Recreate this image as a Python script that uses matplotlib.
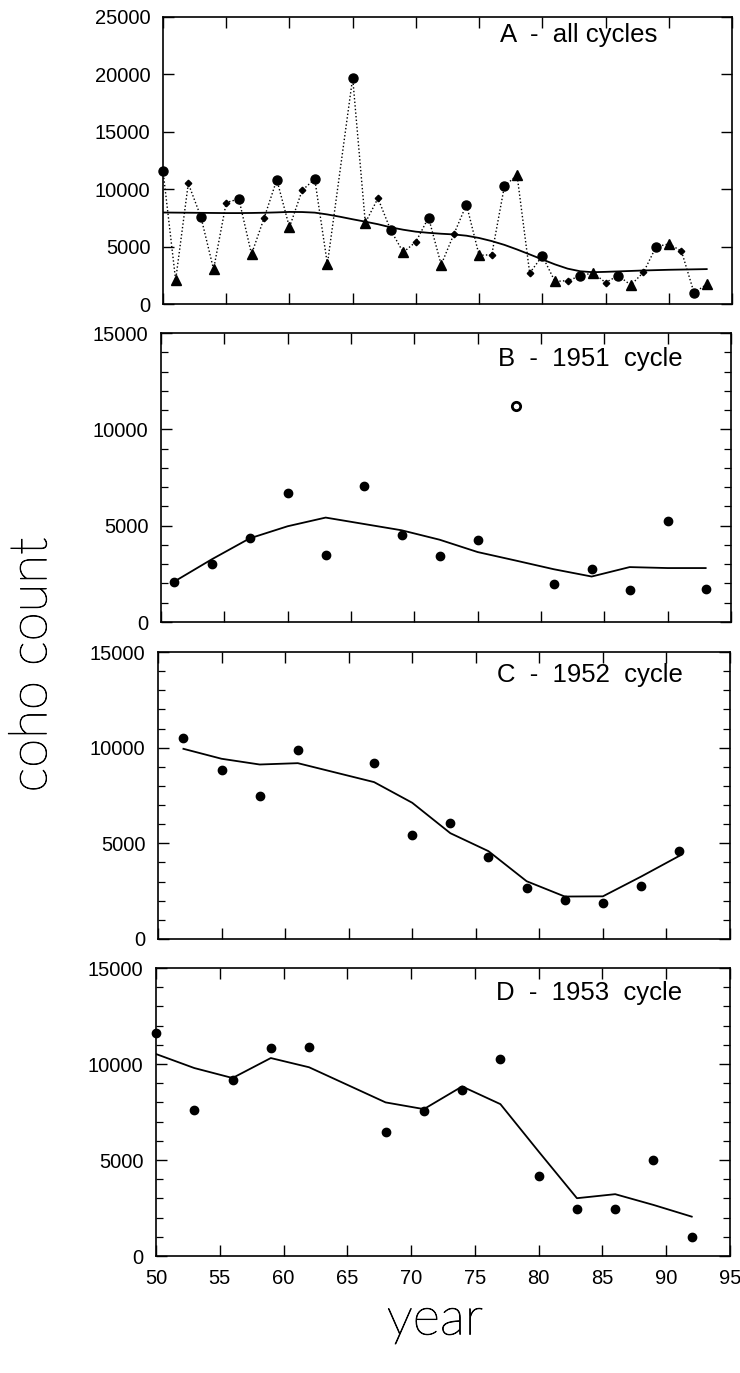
import numpy as np
import matplotlib
matplotlib.use("Agg")
import matplotlib.pyplot as plt
import matplotlib.patheffects as pe
from matplotlib.ticker import MultipleLocator, FuncFormatter

# coho counts per brood cycle
years_b = [1951, 1954, 1957, 1960, 1963, 1966, 1969, 1972, 1975, 1978, 1981, 1984, 1987, 1990, 1993]
coho_b = [2080, 3020, 4340, 6680, 3470, 7070, 4500, 3420, 4240, 11230, 1960, 2730, 1650, 5230, 1720]
smooth_b = [2080, 3250, 4340, 4970, 5420, 5090, 4760, 4270, 3630, 3190, 2740, 2360, 2850, 2800, 2800]
outlier_b = [1978]

years_c = [1952, 1955, 1958, 1961, 1967, 1970, 1973, 1976, 1979, 1982, 1985, 1988, 1991]
coho_c = [10500, 8840, 7500, 9890, 9210, 5420, 6070, 4290, 2690, 2040, 1870, 2760, 4620]
smooth_c = [9940, 9420, 9120, 9190, 8200, 7120, 5530, 4590, 3020, 2220, 2230, 3260, 4340]

years_d = [1950, 1953, 1956, 1959, 1962, 1968, 1971, 1974, 1977, 1980, 1983, 1986, 1989, 1992]
coho_d = [11620, 7580, 9150, 10830, 10890, 6450, 7530, 8660, 10260, 4190, 2430, 2470, 4990, 970]
smooth_d = [10520, 9790, 9270, 10310, 9830, 8000, 7650, 8830, 7910, 5440, 3010, 3220, 2660, 2050]

# 1965 is only shown in panel A
extra_years_d = [1965]
extra_coho_d = [19700]

# smooth through all cycles (panel A)
years_a = list(range(1950, 1994))
smooth_a = [7970, 7960, 7950, 7940, 7930, 7920, 7920, 7930, 7950, 7980,
            8020, 8010, 7960, 7800, 7600, 7380, 7170, 6950, 6680, 6470,
            6300, 6200, 6120, 6060, 5950, 5750, 5480, 5150, 4750, 4320,
            3880, 3450, 3080, 2850, 2770, 2800, 2840, 2880, 2920, 2950,
            2980, 3000, 3020, 3040]

panel_titles = ["A  -  all cycles", "B  -  1951  cycle", "C  -  1952  cycle", "D  -  1953  cycle"]

plt.rcParams["font.family"] = ["Liberation Sans", "DejaVu Sans"]

fig = plt.figure(figsize=(7.4, 13.73), dpi=100)
W, H = 740.0, 1373.0
# pixel boxes: left, top, right, bottom
boxes = [(163, 17, 732, 304), (161, 333, 731, 622), (158, 652, 730, 939), (156, 968, 730, 1256)]
axes = []
for l, t, r, b in boxes:
    axes.append(fig.add_axes([l / W, 1 - b / H, (r - l) / W, (b - t) / H]))


def style(ax, ymax, minor):
    ax.set_xlim(1950, 1995)
    ax.set_ylim(0, ymax)
    ax.xaxis.set_major_locator(MultipleLocator(5))
    ax.yaxis.set_major_locator(MultipleLocator(5000))
    if minor:
        ax.yaxis.set_minor_locator(MultipleLocator(1000))
    ax.tick_params(which="major", direction="in", length=8, width=1.0,
                   top=True, right=True, labelsize=14.5, pad=9)
    ax.tick_params(which="minor", direction="in", length=5, width=0.9,
                   left=True, right=True)
    ax.xaxis.set_major_formatter(FuncFormatter(lambda v, p: f"{int(round(v)) - 1900}"))
    for s in ax.spines.values():
        s.set_linewidth(1.2)


# panel A
ax = axes[0]
all_years = np.array(years_b + years_c + years_d + extra_years_d)
all_coho = np.array(coho_b + coho_c + coho_d + extra_coho_d)
order = np.argsort(all_years)
ax.plot(all_years[order], all_coho[order], color="black", lw=1.0,
        linestyle=(0, (1, 1.6)), zorder=2)
ax.plot(years_a, smooth_a, color="black", lw=1.3, zorder=3)
ax.plot(years_d + extra_years_d, coho_d + extra_coho_d, "o", color="black",
        ms=6.5, clip_on=False, zorder=4)
ax.plot(years_b, coho_b, "^", color="black", ms=6.5, clip_on=False, zorder=4)
ax.plot(years_c, coho_c, "D", color="black", ms=3.3, clip_on=False, zorder=4)
style(ax, 25000, False)
ax.tick_params(labelbottom=False)

# panel B
ax = axes[1]
ax.plot(years_b, smooth_b, color="black", lw=1.3)
keep = [y not in outlier_b for y in years_b]
ax.plot([y for y, k in zip(years_b, keep) if k], [c for c, k in zip(coho_b, keep) if k],
        "o", color="black", ms=6, clip_on=False)
ax.plot([y for y, k in zip(years_b, keep) if not k], [c for c, k in zip(coho_b, keep) if not k],
        "o", mfc="white", mec="black", mew=2, ms=6)
style(ax, 15000, True)
ax.tick_params(labelbottom=False)

# panel C
ax = axes[2]
ax.plot(years_c, smooth_c, color="black", lw=1.3)
ax.plot(years_c, coho_c, "o", color="black", ms=6, clip_on=False)
style(ax, 15000, True)
ax.tick_params(labelbottom=False)

# panel D
ax = axes[3]
ax.plot(years_d, smooth_d, color="black", lw=1.3)
ax.plot(years_d, coho_d, "o", color="black", ms=6, clip_on=False)
style(ax, 15000, True)

title_y = [0.937, 0.91, 0.919, 0.913]
for ax, txt, ty in zip(axes, panel_titles, title_y):
    ax.text(0.592, ty, txt, transform=ax.transAxes, ha="left", va="center", fontsize=18.5)

big = dict(family=["Lato", "DejaVu Sans"], fontweight="light", fontsize=38,
           path_effects=[pe.withStroke(linewidth=0.6, foreground="black")])
fig.text(0.043, 1 - 665 / H, "coho count", rotation=90, ha="center", va="center", **big)
fig.text(435 / W, 1 - 1320 / H, "year", ha="center", va="center", **big)

fig.savefig("out.png", dpi=100)
